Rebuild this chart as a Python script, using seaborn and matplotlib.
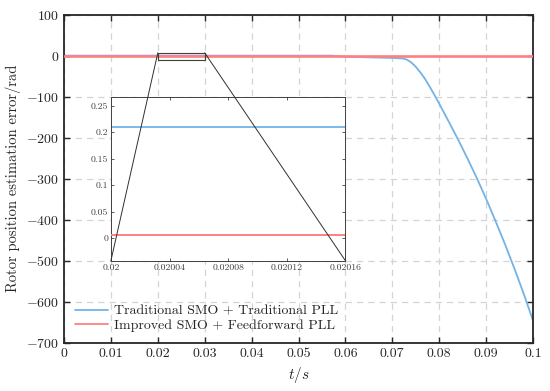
import numpy as np
import pandas as pd
import matplotlib.pyplot as plt
from matplotlib.lines import Line2D
from matplotlib.patches import Rectangle
import seaborn as sns

# values
t_trad = [0.0, 0.02, 0.03, 0.05, 0.057, 0.06, 0.065, 0.07, 0.072, 0.073,
          0.074, 0.075, 0.076, 0.077, 0.078, 0.079, 0.080, 0.082, 0.084,
          0.086, 0.088, 0.090, 0.092, 0.094, 0.096, 0.098, 0.100]
err_trad = [0.21, 0.21, 0.21, 0.21, 0.21, -2.5, -4.0, -5.5, -6.5, -9,
            -16, -27, -41, -57, -76, -96, -117, -160, -204,
            -250, -298, -349, -403, -459, -518, -580, -646]
t_impr = [0.0, 0.1]
err_impr = [0.006, 0.006]

label_trad = 'Traditional SMO + Traditional PLL'
label_impr = 'Improved SMO + Feedforward PLL'
blue = '#74b3e6'
red = '#ff8080'

# zoom window and inset placement (main data coords)
zoom_x = (0.02, 0.03)
zoom_y = (-10, 7)
inset_x = (0.01, 0.06)
inset_y = (-500, -100)

trad = pd.DataFrame({'t': t_trad, 'err': err_trad})
impr = pd.DataFrame({'t': t_impr, 'err': err_impr})

sns.set_style('ticks')
plt.rcParams['font.family'] = ['cmr10', 'DejaVu Serif']
plt.rcParams['mathtext.fontset'] = 'cm'
plt.rcParams['axes.formatter.use_mathtext'] = True
plt.rcParams['axes.unicode_minus'] = True

fig = plt.figure(figsize=(5.5, 3.91), dpi=100)
ax = fig.add_axes([0.1164, 0.1235, 0.8527, 0.8389])


def draw(a, with_label=True, red_lw=1.4):
    # blue first, red drawn over it
    sns.lineplot(data=trad, x='t', y='err', color=blue, linewidth=1.3, ax=a,
                 estimator=None, sort=False, zorder=2,
                 label=label_trad if with_label else None)
    sns.lineplot(data=impr, x='t', y='err', color=red, linewidth=red_lw, ax=a,
                 estimator=None, sort=False, zorder=3,
                 label=label_impr if with_label else None)


# slightly wider red so the blue underneath does not bleed through
draw(ax, red_lw=1.9)

ax.set_xlim(0, 0.1)
ax.set_ylim(-700, 100)
ax.set_xticks(np.arange(0, 0.1001, 0.01))
ax.set_xticklabels(['0'] + [f'{v:g}' for v in np.arange(0.01, 0.1001, 0.01)])
ax.set_yticks(np.arange(-700, 101, 100))
ax.grid(True, linestyle=(0, (5, 4)), color='#d4d4d4', linewidth=0.9)
ax.tick_params(direction='in', top=True, right=True, labelsize=10,
               length=4, width=1.0, colors='#262626')
for s in ax.spines.values():
    s.set_linewidth(1.3)
    s.set_color('#262626')
ax.set_xlabel('$t/s$', fontsize=11)
ax.set_ylabel('Rotor position estimation error/rad', fontsize=10.5)

leg = ax.legend(loc='lower left', frameon=False, fontsize=10,
                handlelength=2.4, handletextpad=0.4, labelspacing=0.1,
                borderaxespad=0.4)
for h in leg.get_lines():
    h.set_linewidth(1.3)

# zoom rectangle
ax.add_patch(Rectangle((zoom_x[0], zoom_y[0]), zoom_x[1] - zoom_x[0],
                       zoom_y[1] - zoom_y[0], fill=False,
                       edgecolor='#404040', linewidth=0.8, zorder=5))

# inset
axins = ax.inset_axes([inset_x[0], inset_y[0], inset_x[1] - inset_x[0],
                       inset_y[1] - inset_y[0]], transform=ax.transData)
draw(axins, with_label=False)
axins.set_xlim(0.02, 0.02016)
axins.set_ylim(-0.043, 0.267)
axins.set_xticks([0.02, 0.02004, 0.02008, 0.02012, 0.02016])
axins.set_xticklabels(['0.02', '0.02004', '0.02008', '0.02012', '0.02016'])
axins.set_yticks([0, 0.05, 0.1, 0.15, 0.2, 0.25])
axins.set_yticklabels(['0', '0.05', '0.1', '0.15', '0.2', '0.25'])
axins.tick_params(direction='in', top=True, right=True, labelsize=7,
                  length=2.5, width=0.6, colors='#404040', pad=2)
axins.set_xlabel('')
axins.set_ylabel('')
axins.set_facecolor('white')
for s in axins.spines.values():
    s.set_linewidth(0.7)
    s.set_color('#404040')

# connector lines drawn over the inset
for (x0, y0), (x1, y1) in [((zoom_x[0], zoom_y[1]), (inset_x[0], inset_y[0])),
                           ((zoom_x[1], zoom_y[1]), (inset_x[1], inset_y[0]))]:
    fig.add_artist(Line2D([x0, x1], [y0, y1], transform=ax.transData,
                          color='#303030', linewidth=0.7, zorder=10))

plt.savefig('out.png', dpi=100)
